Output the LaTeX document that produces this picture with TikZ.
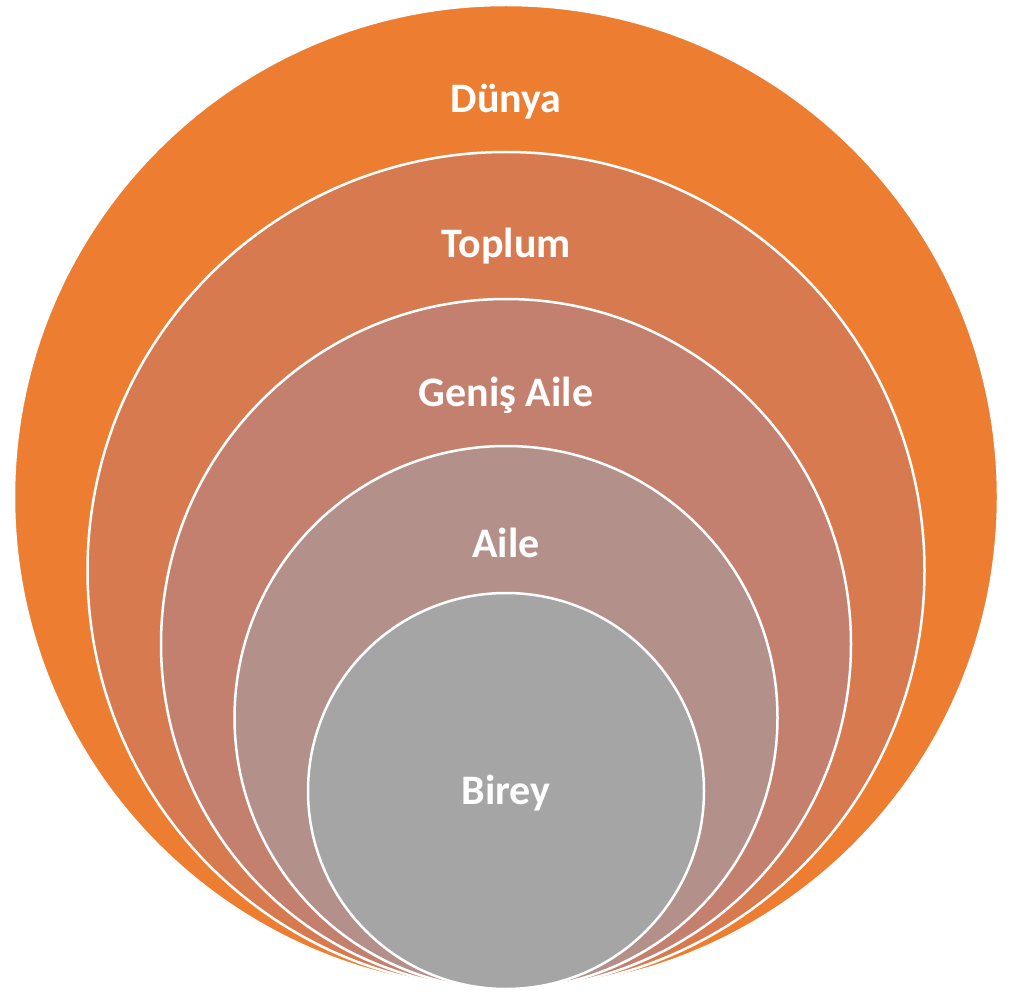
\documentclass[tikz,border=0pt]{standalone}
\usepackage{fontspec}
\setmainfont{Carlito}
\definecolor{dunyacol}{HTML}{ED7D31}
\definecolor{toplumcol}{HTML}{D77A50}
\definecolor{genicol}{HTML}{C4806F}
\definecolor{ailecol}{HTML}{B4908A}
\definecolor{bireycol}{HTML}{A5A5A5}

\begin{document}
\begin{tikzpicture}[x=1pt,y=-1pt]
\useasboundingbox (0,0) rectangle (1012,992);
\begin{scope}[every node/.style={circle,draw=white,line width=2.5pt,inner sep=0pt}]
    \node[fill=dunyacol,minimum size=984pt] (D) at (506,497) {};
    \node[fill=toplumcol,minimum size=837pt] (T) at (506,570.5) {};
    \node[fill=genicol,minimum size=690pt] (G) at (506,644) {};
    \node[fill=ailecol,minimum size=543pt] (A) at (506,717.5) {};
    \node[fill=bireycol,minimum size=396pt] (B) at (506,791) {};
\end{scope}

\begin{scope}[every node/.style={text=white,anchor=base,font=\fontsize{42}{50}\selectfont\bfseries}]
    \node (Dl) at (506,113) {Dünya};
    \node (Tl) at (506,258) {Toplum};
    \node (Gl) at (506,406) {Geniş Aile};
    \node (Al) at (506,557) {Aile};
    \node (Bl) at (506,804) {Birey};
\end{scope}
\end{tikzpicture}
\end{document}
